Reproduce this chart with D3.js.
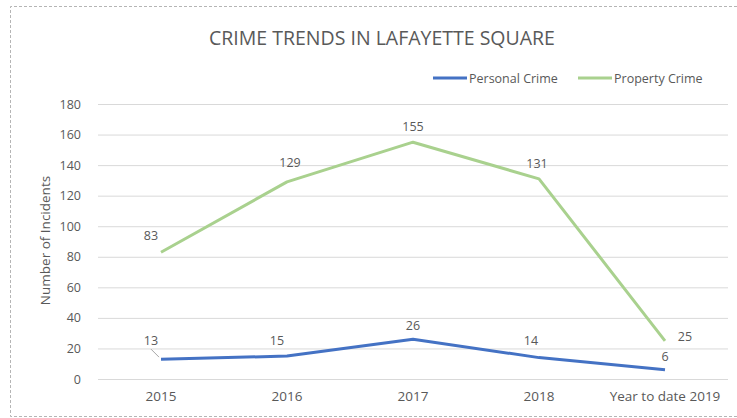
<!DOCTYPE html>
<html>
<head>
<meta charset="utf-8">
<script src="https://cdn.jsdelivr.net/npm/d3@7"></script>
<style>
  body { margin: 0; background: #fff; overflow: hidden; }
</style>
</head>
<body>
<div id="chart"></div>
<script>
// Crime trends, Lafayette Square
const categories = ["2015", "2016", "2017", "2018", "Year to date 2019"];
const personalCrime = [13, 15, 26, 14, 6];
const propertyCrime = [83, 129, 155, 131, 25];
const yTicks = [0, 20, 40, 60, 80, 100, 120, 140, 160, 180];
const seriesNames = ["Personal Crime", "Property Crime"];

const width = 737, height = 418;
const margin = { top: 104, right: 9, bottom: 39, left: 98 };
const innerWidth = width - margin.left - margin.right;
const innerHeight = height - margin.top - margin.bottom;

const BLUE = "#4472C4";
const GREEN = "#A9D18E";
const TEXT = "#595959";
const FONT = "Open Sans, Noto Sans, sans-serif";

const svg = d3.select("#chart").append("svg")
  .attr("width", width)
  .attr("height", height)
  .attr("font-family", FONT)
  .style("display", "block");

// dashed frame of the chart area (right side runs off the picture)
svg.append("path")
  .attr("d", `M${width},6.5 H10.5 V416.5 H${width}`)
  .attr("fill", "none")
  .attr("stroke", "#b5b5b5")
  .attr("stroke-dasharray", "3,2");

svg.append("text")
  .attr("x", 382).attr("y", 45)
  .attr("text-anchor", "middle")
  .attr("font-size", 19.5)
  .attr("fill", TEXT)
  .text("CRIME TRENDS IN LAFAYETTE SQUARE");

const g = svg.append("g")
  .attr("transform", `translate(${margin.left},${margin.top})`);

const x = d3.scaleBand()
  .domain(categories)
  .range([0, innerWidth]);

const y = d3.scaleLinear()
  .domain([0, 180])
  .range([innerHeight, 0]);

// gridlines
g.append("g")
  .call(d3.axisLeft(y).tickValues(yTicks).tickSize(-innerWidth).tickFormat(""))
  .call(a => a.select(".domain").remove())
  .call(a => a.selectAll("text").remove())
  .call(a => a.selectAll("line").attr("stroke", "#d9d9d9"));

// y tick labels
g.append("g")
  .call(d3.axisLeft(y).tickValues(yTicks).tickSize(0).tickPadding(17))
  .attr("font-family", FONT)
  .attr("font-size", 12.5)
  .call(a => a.select(".domain").remove())
  .call(a => a.selectAll("text").attr("fill", TEXT));

// x labels
g.append("g")
  .attr("transform", `translate(0,${innerHeight})`)
  .call(d3.axisBottom(x).tickSize(0).tickPadding(12))
  .attr("font-family", FONT)
  .attr("font-size", 13.5)
  .call(a => a.select(".domain").remove())
  .call(a => a.selectAll("text").attr("fill", TEXT));

g.append("text")
  .attr("transform", "rotate(-90)")
  .attr("x", -innerHeight / 2 + 1)
  .attr("y", -48)
  .attr("text-anchor", "middle")
  .attr("font-size", 13.5)
  .attr("fill", TEXT)
  .text("Number of Incidents");

const cx = d => x(d) + x.bandwidth() / 2;

const line = d3.line()
  .x((d, i) => cx(categories[i]))
  .y(d => y(d));

g.append("path")
  .datum(propertyCrime)
  .attr("d", line)
  .attr("fill", "none")
  .attr("stroke", GREEN)
  .attr("stroke-width", 3)
  .attr("stroke-linejoin", "round");

g.append("path")
  .datum(personalCrime)
  .attr("d", line)
  .attr("fill", "none")
  .attr("stroke", BLUE)
  .attr("stroke-width", 3)
  .attr("stroke-linejoin", "round");

// data label placement (dx, dy from point)
const propertyLabelOffset = [[-10, -12], [3, -15], [0, -11], [-2, -11], [20, 0]];
const personalLabelOffset = [[-10, -14], [-10, -11], [0, -9], [-8, -13], [0, -9]];

function labels(values, offsets) {
  g.append("g").selectAll("text")
    .data(values)
    .join("text")
    .attr("x", (d, i) => cx(categories[i]) + offsets[i][0])
    .attr("y", (d, i) => y(d) + offsets[i][1])
    .attr("text-anchor", "middle")
    .attr("font-size", 12.5)
    .attr("fill", TEXT)
    .text(d => d);
}
labels(propertyCrime, propertyLabelOffset);
labels(personalCrime, personalLabelOffset);

// leader line for the 2015 personal label
g.append("line")
  .attr("x1", cx(categories[0]) - 10).attr("y1", y(personalCrime[0]) - 10)
  .attr("x2", cx(categories[0]) - 2).attr("y2", y(personalCrime[0]) - 2)
  .attr("stroke", "#a6a6a6")
  .attr("stroke-width", 1);

// legend
const legend = svg.append("g").attr("transform", "translate(433,78)");
[BLUE, GREEN].forEach((c, i) => {
  const row = legend.append("g").attr("transform", `translate(${i * 145},0)`);
  row.append("line")
    .attr("x1", 0).attr("x2", 34)
    .attr("stroke", c)
    .attr("stroke-width", 3);
  row.append("text")
    .attr("x", 36).attr("y", 4.5)
    .attr("font-size", 12.5)
    .attr("fill", TEXT)
    .text(seriesNames[i]);
});
</script>
</body>
</html>
